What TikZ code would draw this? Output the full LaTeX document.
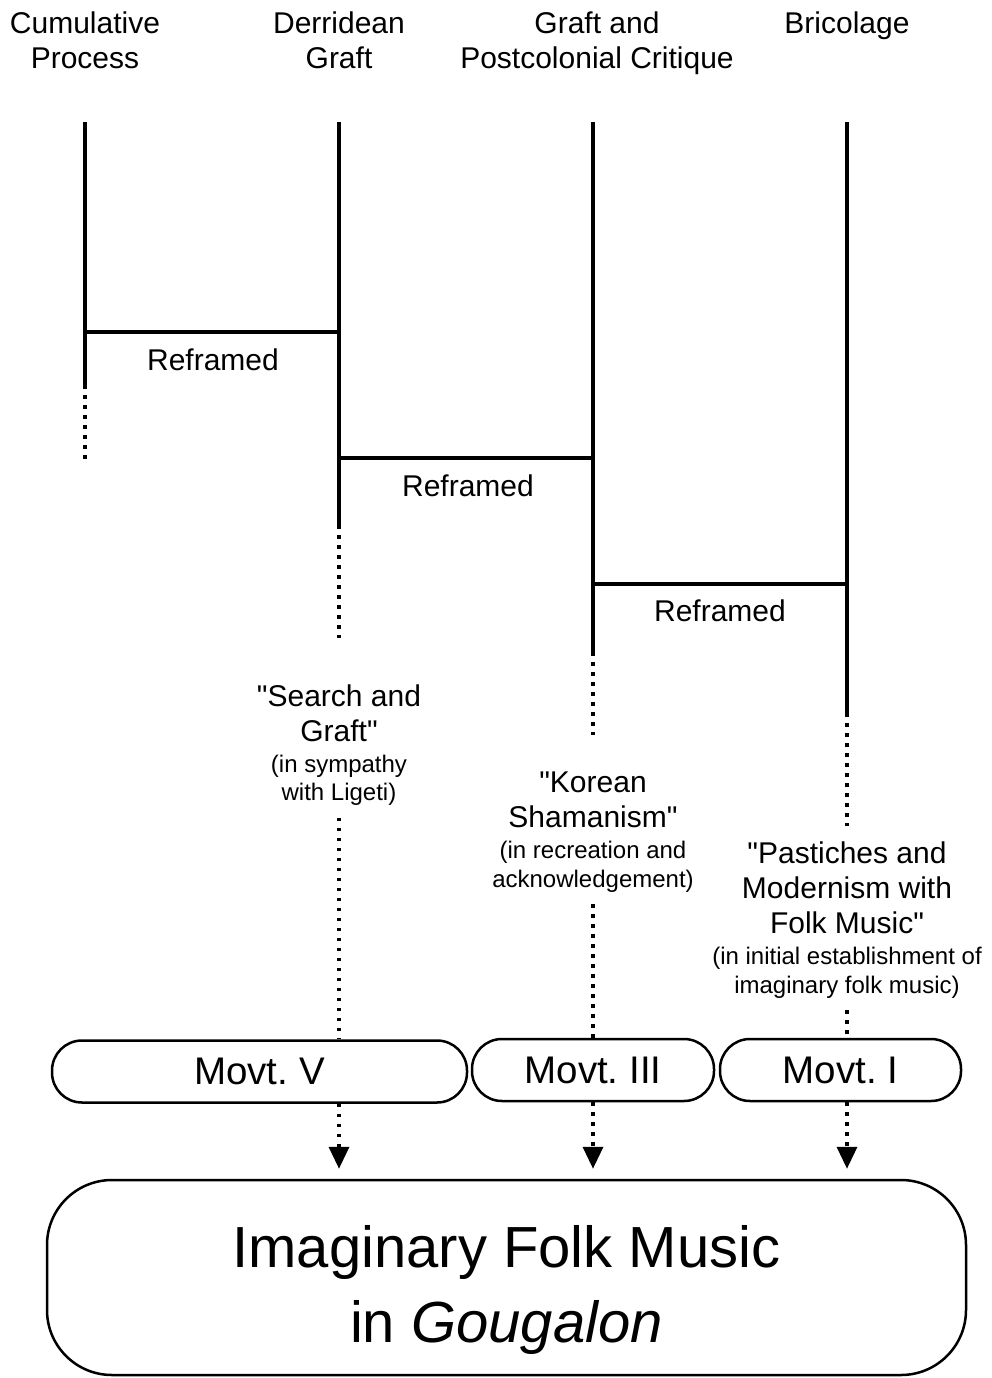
\documentclass[tikz,border=0pt]{standalone}
\usepackage{fontspec}
\setmainfont{Liberation Sans}[Ligatures=TeXOff]
\usetikzlibrary{arrows.meta,positioning}
\begin{document}
\begin{tikzpicture}  % ------ Gougalon : grafts and reframing -------------------
      [x=1pt,y=-1pt,
       bar/.style={line width=3.5pt},
       dots/.style={line width=3.5pt, dash pattern=on 3.5pt off 6.5pt},
       head/.style={align=center, inner sep=0pt, font=\fontsize{30}{35}\selectfont},
       quote/.style={align=center, inner sep=0pt, font=\fontsize{30}{35}\selectfont},
       note/.style={align=center, inner sep=0pt, font=\fontsize{24}{28.5}\selectfont},
       movt/.style={draw, line width=2.5pt, rounded corners=30pt, minimum height=62pt,
                    font=\fontsize{38.5}{40}\selectfont},
       tip/.style={-{Triangle[length=22pt,width=20pt]}}]

    \useasboundingbox (0,0) rectangle (991,1378);

    \coordinate (c1) at (85,122);
    \coordinate (c2) at (339,122);
    \coordinate (c3) at (593,122);
    \coordinate (c4) at (847,122);
    \coordinate (s1) at (85,385);   \coordinate (e1) at (85,465);
    \coordinate (s2) at (339,525);  \coordinate (e2) at (339,638);
    \coordinate (s3) at (593,652);  \coordinate (e3) at (593,735);
    \coordinate (s4) at (847,713);  \coordinate (e4) at (847,826);

    % headings
    \node[head] (h1) at (85,40) {Cumulative\\Process};
    \node[head] (h2) at (339,40) {Derridean\\Graft};
    \node[head] (h3) at (597,43) {Graft and\\Postcolonial Critique};
    \node[head] (h4) at (847,26) {Bricolage};

    % the four lines
    \draw[bar] (c1) -- (s1);  \draw[dots] (s1) -- (e1);
    \draw[bar] (c2) -- (s2);  \draw[dots] (s2) -- (e2);
    \draw[bar] (c3) -- (s3);  \draw[dots] (s3) -- (e3);
    \draw[bar] (c4) -- (s4);  \draw[dots] (s4) -- (e4);

    % reframings
    \draw[bar] (85,332) -- (339,332);
    \node[head] (r1) at (213,360) {Reframed};
    \draw[bar] (339,458) -- (593,458);
    \node[head] (r2) at (468,486) {Reframed};
    \draw[bar] (593,584) -- (847,584);
    \node[head] (r3) at (720,611) {Reframed};

    % the three movements
    \node[quote] (t5) at (339,713) {"Search and\\Graft"};
    \node[note, below=13pt of t5] (n5) {(in sympathy\\with Ligeti)};
    \node[quote] (t3) at (593,800) {"Korean\\Shamanism"};
    \node[note, below=13pt of t3] (n3) {(in recreation and\\acknowledgement)};
    \node[quote] (t1) at (847,888) {"Pastiches and\\Modernism with\\Folk Music"};
    \node[note, below=13pt of t1] (n1) {(in initial establishment of\\imaginary folk music)};

    \node[movt, minimum width=415pt] (m5) at (259.5,1071.5) {Movt.\ V};
    \node[movt, minimum width=242pt] (m3) at (593,1070) {Movt.\ III};
    \node[movt, minimum width=241pt] (m1) at (840.5,1070) {Movt.\ I};

    \draw[dots] ([yshift=-12pt]n5.south) -- (m5.north -| c2);
    \draw[dots] ([yshift=-12pt]n3.south) -- (m3.north -| c3);
    \draw[dots] ([yshift=-12pt]n1.south) -- (m1.north -| c4);

    \node[draw, line width=2.5pt, rounded corners=65pt, minimum width=919pt,
          minimum height=195pt] (big) at (506.5,1277.5) {};
    \node[align=center, font=\fontsize{58}{75}\selectfont] (title) at (506.5,1290)
          {Imaginary Folk Music\\in \textit{Gougalon}};

    \draw[dots, tip] (m5.south -| c2) -- ([yshift=10pt]big.north -| c2);
    \draw[dots, tip] (m3.south -| c3) -- ([yshift=10pt]big.north -| c3);
    \draw[dots, tip] (m1.south -| c4) -- ([yshift=10pt]big.north -| c4);
\end{tikzpicture}
\end{document}
